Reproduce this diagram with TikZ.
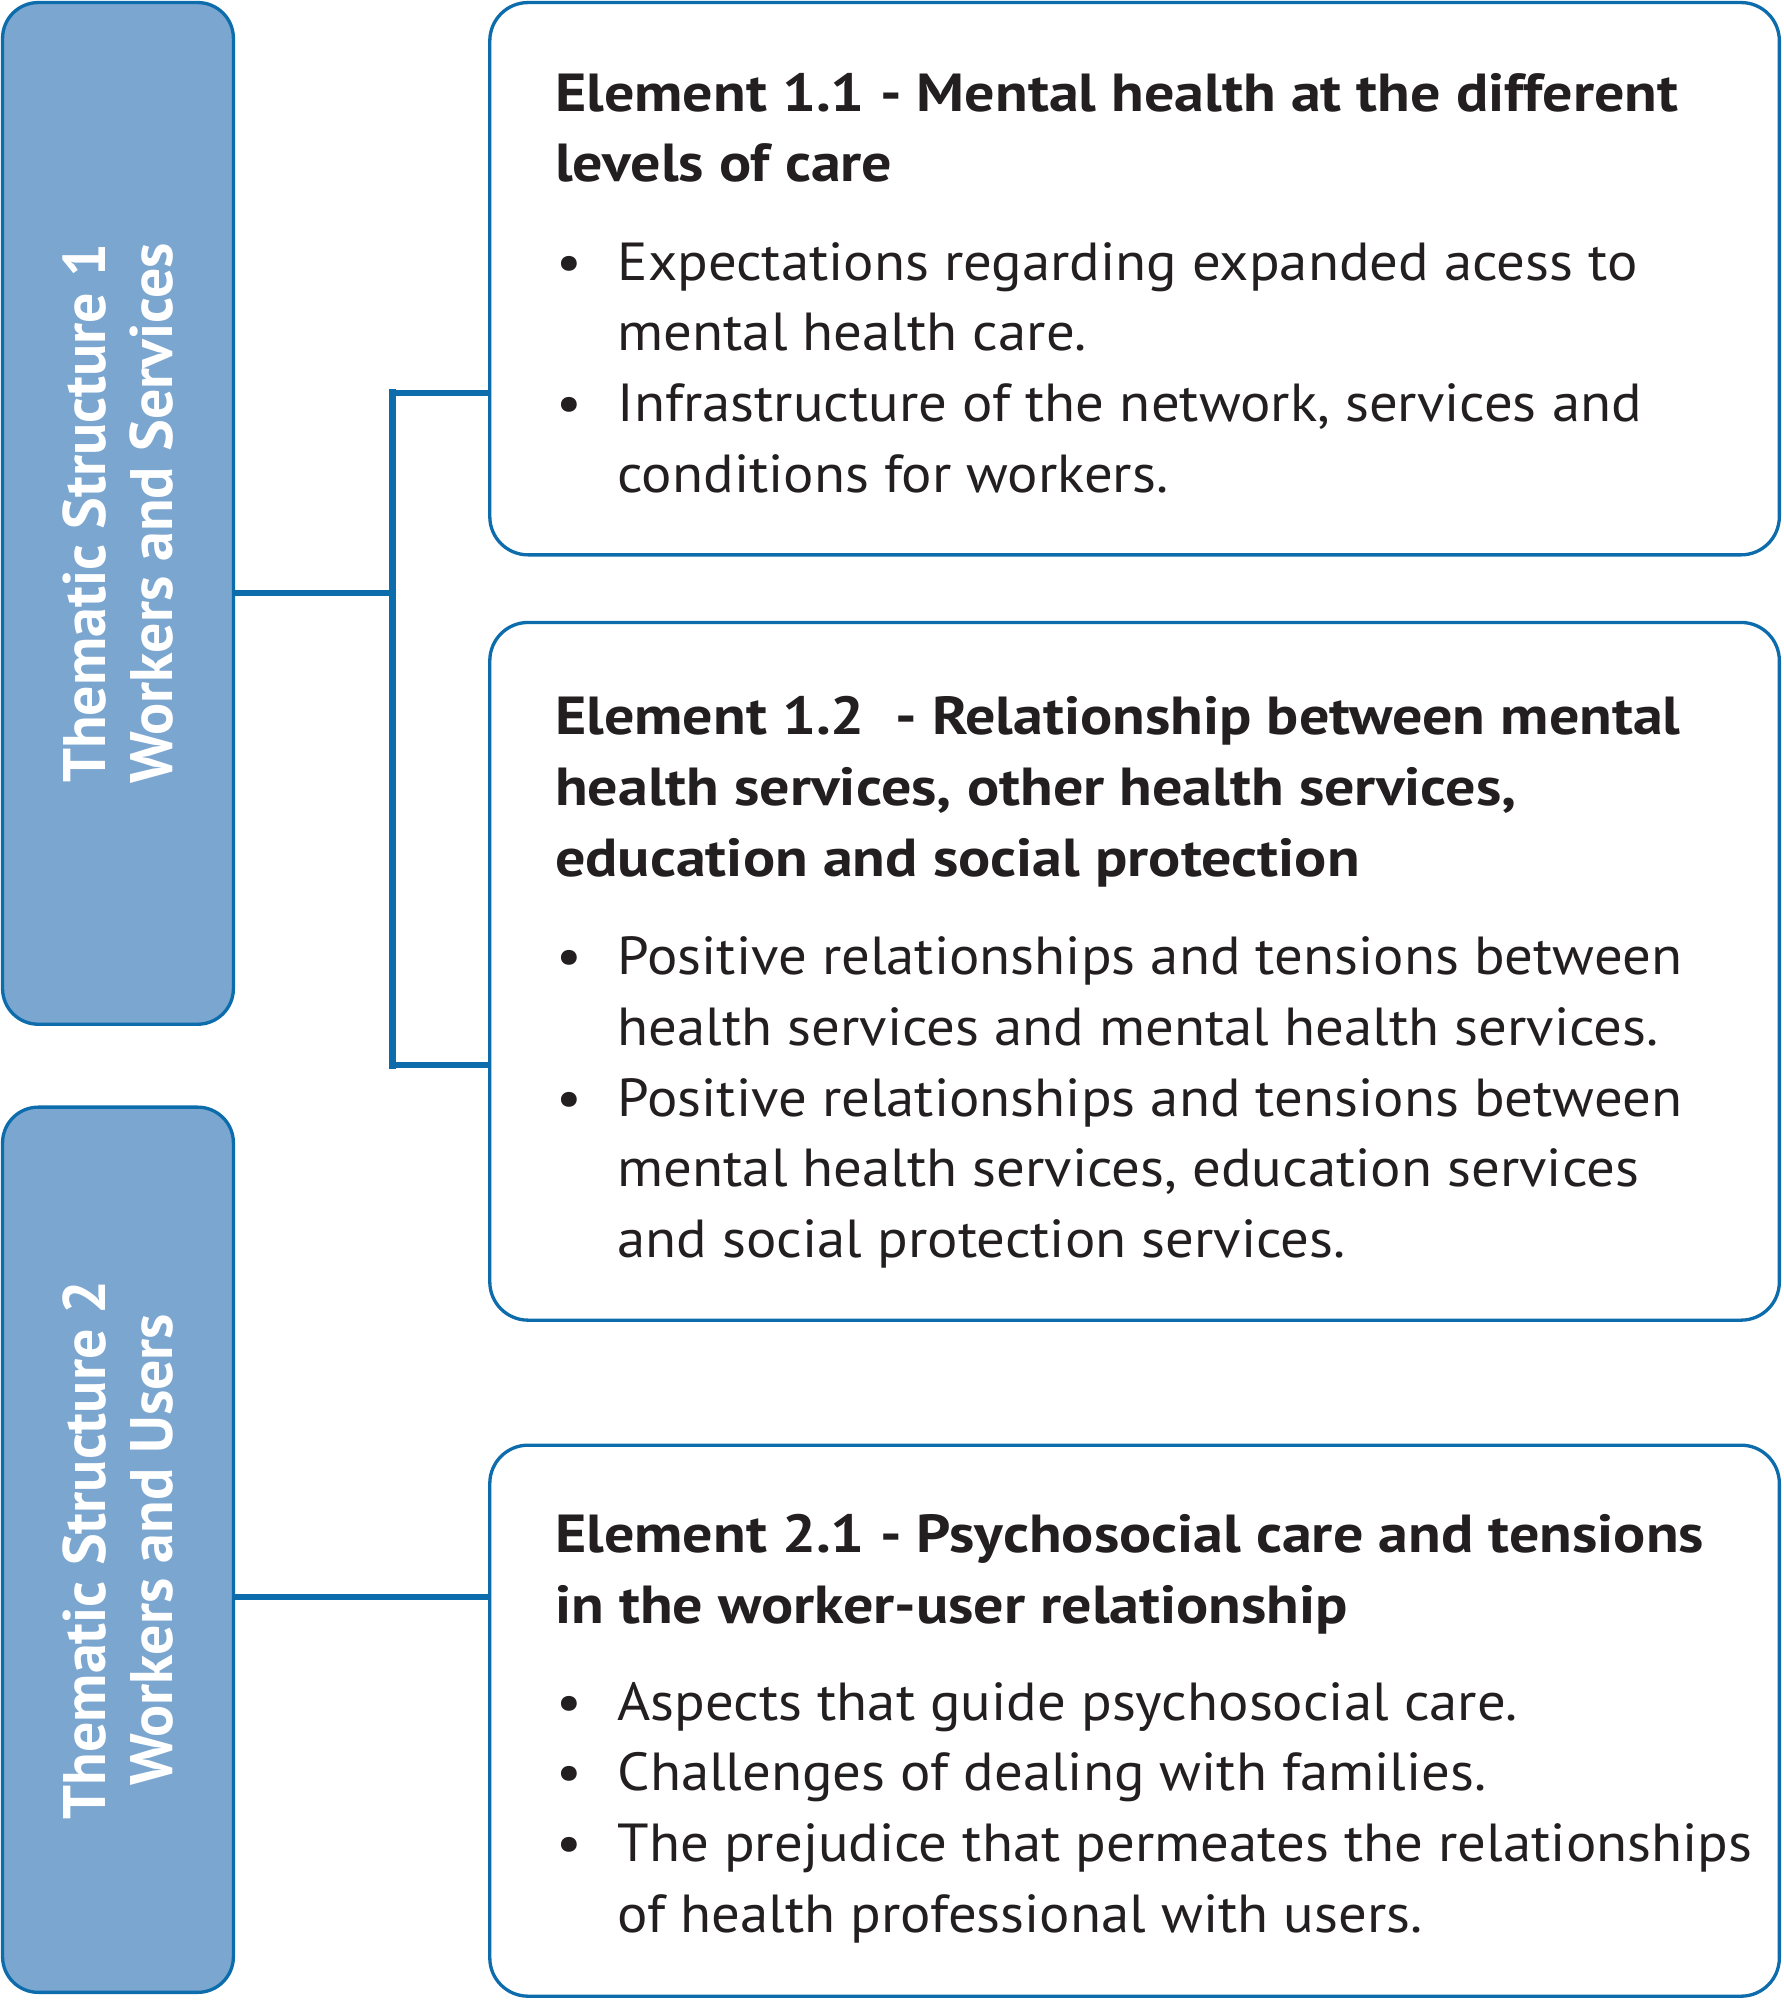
\documentclass[tikz,border=0pt]{standalone}
\usepackage{fontspec}
\setmainfont{PT Sans}[FakeStretch=1.06,BoldFeatures={FakeStretch=1.12}]
\newfontfamily\tsfont{PT Sans}
\definecolor{tsfill}{RGB}{123,166,208}
\definecolor{tsline}{RGB}{12,108,172}
\definecolor{txt}{RGB}{35,31,32}
\newcommand{\bul}{\makebox[49pt][l]{\hspace*{1pt}\textbullet}}
\newcommand{\ind}{\hspace*{49pt}}
\begin{document}
\begin{tikzpicture}[x=1pt,y=-1pt,
    every node/.append style={inner sep=0pt},
    tsbox/.style={draw=tsline,line width=2.6pt,fill=tsfill,rounded corners=28pt,minimum width=181pt},
    elbox/.style={draw=tsline,line width=2.6pt,fill=white,rounded corners=30pt,minimum width=1011pt},
    tslabel/.style={rotate=90,align=center,text=white,font=\tsfont\bfseries\fontsize{47}{53}\selectfont},
    eltext/.style={anchor=north west,align=left,text=txt,font=\fontsize{42}{55.5}\selectfont},
    link/.style={draw=tsline,line width=5pt},
    bar/.style={draw=tsline,line width=5.7pt,line cap=rect}]
    \useasboundingbox (0,0) rectangle (1398,1568);
    \node [tsbox,minimum height=801pt] (ts1) at (92.5,402.5) {};
    \node [tsbox,minimum height=694pt] (ts2) at (92.5,1215) {};
    \node [elbox,minimum height=433pt] (el11) at (889.5,218.5) {};
    \node [elbox,minimum height=547pt] (el12) at (889.5,761.5) {};
    \node [elbox,minimum height=432pt] (el21) at (889.5,1349) {};
    \node [tslabel] (ts1lbl) at (ts1.center) {Thematic Structure 1\\Workers and Services};
    \node [tslabel] (ts2lbl) at (ts2.center) {Thematic Structure 2\\Workers and Users};
    \node [eltext] (el11txt) at (435,48) {\strut\textbf{Element 1.1 - Mental health at the different}\\
        \textbf{levels of care}\\[21.5pt]
        \bul Expectations regarding expanded acess to\\
        \ind mental health care.\\
        \bul Infrastructure of the network, services and\\
        \ind conditions for workers.};
    \node [eltext] (el12txt) at (435,537) {\strut\textbf{Element 1.2\ \ - Relationship between mental}\\
        \textbf{health services, other health services,}\\
        \textbf{education and social protection}\\[21.5pt]
        \bul Positive relationships and tensions between\\
        \ind health services and mental health services.\\
        \bul Positive relationships and tensions between\\
        \ind mental health services, education services\\
        \ind and social protection services.};
    \node [eltext] (el21txt) at (435,1178) {\strut\textbf{Element 2.1 - Psychosocial care and tensions}\\
        \textbf{in the worker-user relationship}\\[20.5pt]
        \bul Aspects that guide psychosocial care.\\
        \bul Challenges of dealing with families.\\
        \bul The prejudice that permeates the relationships\\
        \ind of health professional with users.};
    \coordinate (jtop) at (307.5,308);
    \coordinate (jmid) at (307.5,465);
    \coordinate (jbot) at (307.5,835);
    \coordinate (j2) at (307.5,1252);
    \draw [link] (jmid -| ts1.east) -- (jmid);
    \draw [bar] (jtop) -- (jbot);
    \draw [link] (jtop) -- (jtop -| el11.west);
    \draw [link] (jbot) -- (jbot -| el12.west);
    \draw [link] (j2 -| ts2.east) -- (j2 -| el21.west);
\end{tikzpicture}
\end{document}
